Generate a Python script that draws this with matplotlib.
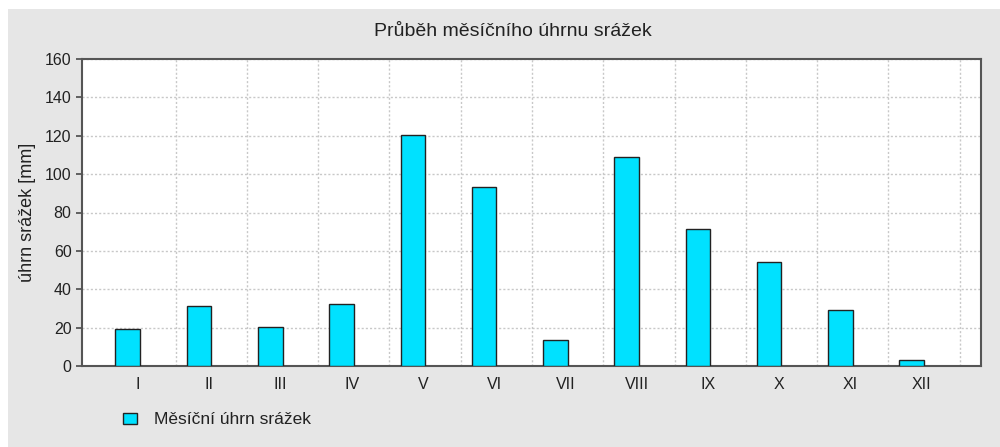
import matplotlib
matplotlib.use("Agg")
import matplotlib.pyplot as plt
from matplotlib.patches import Patch, Rectangle
import numpy as np

plt.rcParams['font.family'] = ['Liberation Sans', 'DejaVu Sans']

# data
months = ['I', 'II', 'III', 'IV', 'V', 'VI', 'VII', 'VIII', 'IX', 'X', 'XI', 'XII']
srazky = [19.1, 31.4, 20.3, 32.3, 120.4, 93.1, 13.4, 108.8, 71.2, 54.4, 29.4, 3.0]

W, H = 1000, 447
fig = plt.figure(figsize=(W / 100, H / 100), dpi=100, facecolor='white')

# šedý panel (nahoře a vlevo bílý okraj)
fig.patches.append(Rectangle((8 / W, 0), 1 - 8 / W, 1 - 9 / H, transform=fig.transFigure,
                             facecolor='#e6e6e6', edgecolor='none', zorder=-10))

ax = fig.add_axes([82 / W, (H - 366) / H, 899 / W, 307 / H])
ax.set_facecolor('white')

x = np.arange(len(months))
ax.bar(x - 0.345, srazky, width=0.345, align='edge', color='#00e1ff',
       edgecolor='#222222', linewidth=1.0, zorder=3)

ax.set_xlim(-0.814, 11.80)
ax.set_ylim(0, 160)
ax.set_yticks(np.arange(0, 161, 20))
ax.set_xticks(x - 0.03)
ax.set_xticklabels(months)
ax.set_xticks(x + 0.5, minor=True)

ax.grid(True, which='minor', axis='x', color='#c8c8c8', linestyle=(0, (1.5, 1.5)), linewidth=1.0, zorder=1)
ax.grid(True, which='major', axis='y', color='#c8c8c8', linestyle=(0, (1.5, 1.5)), linewidth=1.0, zorder=1)

ax.tick_params(axis='x', which='both', length=0, pad=8, labelsize=11.5, labelcolor='#222222')
ax.tick_params(axis='y', length=4.5, width=1.3, color='#555555', pad=3, labelsize=11.5, labelcolor='#222222')

for s in ax.spines.values():
    s.set_color('#555555')
    s.set_linewidth(1.5)

ax.set_ylabel('úhrn srážek [mm]', fontsize=13, color='#222222')
ax.yaxis.set_label_coords((36 - 82) / 899, 0.5)

fig.text(513 / W, 1 - 31 / H, 'Průběh měsíčního úhrnu srážek', ha='center', va='center',
         fontsize=14, color='#222222')

handle = Patch(facecolor='#00e1ff', edgecolor='#222222', linewidth=1.0)
fig.legend([handle], ['Měsíční úhrn srážek'], loc='center left',
           bbox_to_anchor=(123 / W, 1 - 420 / H), frameon=False, fontsize=12.5,
           handlelength=0.8, handleheight=0.55, handletextpad=1.0,
           borderpad=0, borderaxespad=0, labelcolor='#222222')

fig.savefig('out.png', dpi=100, facecolor=fig.get_facecolor())
